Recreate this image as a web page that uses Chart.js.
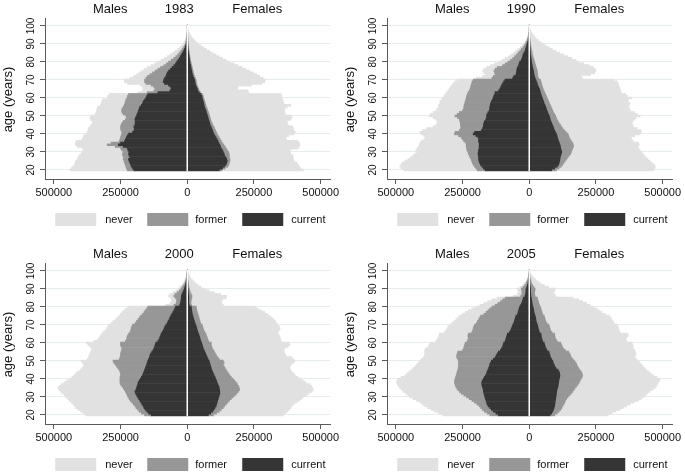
<!DOCTYPE html>
<html>
<head>
<meta charset="utf-8">
<script src="https://cdn.jsdelivr.net/npm/chart.js@4/dist/chart.umd.min.js"></script>
<style>
  body { margin: 0; background: #fff; overflow: hidden; }
  .panel { position: absolute; width: 342px; height: 231px; }
</style>
</head>
<body>
<div class="panel" style="left:0;top:0"><canvas id="p1983"></canvas></div>
<div class="panel" style="left:342px;top:0"><canvas id="p1990"></canvas></div>
<div class="panel" style="left:0;top:245px"><canvas id="p2000"></canvas></div>
<div class="panel" style="left:342px;top:245px"><canvas id="p2005"></canvas></div>
<script>
// Smoking status by age and sex, counts in thousands

const ages = [20,21,22,23,24,25,26,27,28,29,30,31,32,33,34,35,36,37,38,39,
  40,41,42,43,44,45,46,47,48,49,50,51,52,53,54,55,56,57,58,59,
  60,61,62,63,64,65,66,67,68,69,70,71,72,73,74,75,76,77,78,79,
  80,81,82,83,84,85,86,87,88,89,90,91,92,93,94,95,96,97,98,99,100];

const xTicks = [-500, -250, 0, 250, 500];
const xTickLabels = ['500000', '250000', '0', '250000', '500000'];
const yTicks = [20, 30, 40, 50, 60, 70, 80, 90, 100];
const legendLabels = ['never', 'former', 'current'];

// 1983
const m1983Current = [200,205,210,212,215,218,220,215,218,220, 218,222,225,240,258,250,235,232,228,225,
  220,205,200,198,200,196,195,195,196,194, 190,188,185,183,180,178,172,168,165,160,
  155,152,148,110,65,60,62,70,85,90, 88,85,80,78,75,70,63,57,50,44,
  40,35,30,26,22,18,14,11,8,6, 4,3,2,1,1,1,0,0,0,0, 0];
const m1983Former = [25,23,20,20,20,19,20,23,24,23, 22,23,25,30,42,35,20,20,22,23,
  25,40,48,52,50,52,50,45,36,34, 40,52,60,63,64,62,64,66,67,70,
  71,72,72,40,60,60,63,65,70,70, 72,70,70,62,55,50,47,43,38,34,
  30,25,21,17,14,12,10,8,6,4, 3,2,2,2,1,0,1,0,0,0, 0];
const m1983Never = [215,206,198,190,185,181,172,172,163,155, 155,145,142,142,118,135,160,143,140,140,
  135,130,124,120,115,112,110,116,130,137, 130,105,97,94,94,96,89,88,88,88,
  74,74,72,35,43,45,43,40,70,75, 75,60,50,50,50,50,50,50,47,44,
  40,38,35,32,28,24,21,17,14,11, 8,6,4,3,2,2,1,1,1,0, 0];
const f1983Current = [120,132,140,145,148,150,148,145,140,138, 135,132,128,125,122,118,115,112,108,104,
  100,97,95,92,89,86,84,82,80,78, 76,74,72,70,67,65,63,62,60,58,
  56,55,52,45,40,38,35,32,30,29, 28,25,22,20,18,17,15,14,13,11,
  10,9,8,7,6,5,4,3,3,2, 2,1,1,1,1,0,0,0,0,0, 0];
const f1983Former = [10,10,12,11,10,10,12,13,18,19, 20,18,18,17,15,14,13,12,12,12,
  12,12,11,11,11,10,9,8,8,8, 8,8,8,7,8,7,7,6,6,6,
  6,5,5,5,5,5,5,5,5,5, 5,5,5,5,5,5,5,5,4,4,
  4,3,3,3,3,3,3,3,2,2, 2,2,1,1,0,1,1,0,0,0, 0];
const f1983Never = [305,283,268,259,252,240,238,240,237,231, 230,235,269,278,285,288,287,248,250,264,
  288,296,294,295,295,282,282,285,300,306, 306,286,286,288,291,303,318,294,294,294,
  293,294,295,180,183,145,150,203,245,256, 259,255,245,235,225,213,200,186,173,160,
  146,134,122,110,99,88,77,66,56,47, 38,31,25,19,15,10,7,5,3,2, 1];

// 1990
const m1990Current = [165,172,178,183,186,188,190,190,191,192, 191,190,188,188,187,188,190,190,192,200,
  210,205,180,175,172,172,170,168,163,160, 160,158,155,150,148,148,146,145,142,138,
  135,133,130,128,115,110,107,104,100,96, 91,62,58,50,48,47,46,44,40,38,
  36,30,27,25,23,20,16,14,12,10, 8,6,4,3,2,1,1,0,0,0, 0];
const m1990Former = [30,28,27,27,27,28,28,32,34,36, 39,43,47,48,49,50,55,60,63,65,
  70,73,82,83,84,86,88,92,99,108, 118,112,107,100,98,97,98,97,98,100,
  101,102,102,102,110,112,113,114,116,118, 119,78,77,78,82,85,82,76,60,52,
  44,40,35,30,25,22,20,16,12,9, 7,5,4,3,2,2,1,1,1,0, 0];
const m1990Never = [275,280,280,270,262,249,237,223,210,200, 190,192,185,179,176,172,160,145,135,130,
  125,132,138,127,104,92,87,85,88,92, 97,100,98,100,99,95,96,93,95,92,
  89,85,83,80,80,78,75,72,69,66, 60,60,40,37,40,43,42,40,45,40,
  35,32,28,23,20,16,14,12,10,8, 6,5,4,3,2,1,1,1,0,1, 0];
const f1990Current = [84,95,105,110,112,114,115,116,118,120, 122,120,118,117,115,113,110,108,106,104,
  102,98,95,92,90,87,84,81,79,77, 75,72,69,66,64,62,59,56,54,51,
  49,46,44,42,40,38,35,32,30,27, 25,22,20,18,17,16,14,13,11,10,
  9,8,7,6,5,4,4,3,3,2, 2,1,1,1,0,0,0,0,0,0, 0];
const f1990Former = [18,17,15,16,18,21,25,29,32,35, 36,40,45,49,50,50,48,46,44,44,
  43,40,37,34,31,30,28,27,25,24, 24,23,22,22,21,20,20,20,19,19,
  18,18,17,16,15,14,15,16,16,17, 17,13,12,14,14,14,14,13,13,12,
  11,10,9,8,7,7,6,5,4,4, 3,3,2,1,2,1,1,0,0,0, 0];
const f1990Never = [363,358,352,342,330,317,305,293,282,270, 263,255,247,242,247,247,232,231,232,247,
  270,282,286,279,269,271,273,280,291,299, 316,310,304,290,290,290,296,302,299,300,
  317,304,301,287,287,288,288,287,287,286, 273,165,163,198,214,220,220,214,201,183,
  165,157,144,131,118,104,90,79,68,57, 47,38,31,24,18,14,9,7,4,2, 1];

// 2000
const m2000Current = [135,145,152,158,162,165,170,174,178,182, 186,190,194,196,192,190,188,186,184,180,
  176,172,168,165,162,160,157,155,152,150, 148,145,142,140,137,133,128,125,122,120,
  118,110,106,103,100,98,94,90,87,84, 80,75,72,68,65,62,58,54,50,47,
  44,28,26,24,23,22,22,20,17,14, 11,9,7,5,4,3,2,1,1,0, 0];
const m2000Former = [25,27,28,28,30,31,32,34,36,36, 36,35,34,36,44,50,57,64,68,72,
  76,80,82,85,90,95,103,110,118,125, 130,110,110,110,113,115,118,120,126,130,
  132,122,122,123,124,122,121,122,123,124, 125,120,118,117,115,113,110,108,108,105,
  104,22,16,16,17,22,28,26,21,16, 13,10,7,5,3,2,1,1,0,1, 0];
const m2000Never = [220,218,220,224,226,226,226,227,228,230, 233,235,240,243,244,244,235,222,210,200,
  188,180,175,168,158,145,135,125,118,117, 120,120,118,118,115,114,114,113,117,122,
  128,118,107,104,101,100,100,96,92,90, 89,90,88,85,82,81,82,83,80,78,
  74,30,23,20,18,18,20,19,14,12, 10,8,7,6,5,4,3,2,2,1, 1];
const f2000Current = [79,88,95,100,104,108,110,112,114,116, 118,120,122,122,121,120,118,115,112,110,
  107,104,101,98,95,92,90,88,86,84, 82,78,75,72,69,66,63,60,58,56,
  54,51,49,47,45,43,40,38,36,34, 32,29,27,25,23,21,19,18,17,16,
  15,7,6,6,6,6,6,5,4,3, 3,2,2,1,1,1,0,0,0,0, 0];
const f2000Former = [19,22,25,28,31,32,36,40,44,49, 54,60,64,70,75,75,74,73,72,68,
  65,61,59,57,55,54,52,50,49,54, 53,42,40,38,37,36,35,34,34,34,
  36,29,28,28,27,27,26,24,24,24, 24,21,21,21,21,21,21,20,19,19,
  19,9,8,8,9,11,12,10,8,7, 5,4,3,3,2,1,1,1,0,0, 0];
const f2000Never = [262,258,256,255,253,252,254,258,262,263, 263,268,272,276,276,275,274,272,261,257,
  256,250,245,245,242,242,243,247,255,260, 269,278,277,260,260,262,264,272,286,294,
  290,272,273,273,273,272,274,283,288,287, 284,285,282,279,274,268,260,252,242,230,
  221,119,116,114,117,128,130,110,90,72, 57,46,37,29,23,17,12,8,6,3, 1];

// 2005
const m2005Current = [116,125,135,142,148,154,158,160,162,164, 166,168,170,172,172,174,176,178,178,176,
  172,168,164,160,158,155,152,150,148,145, 142,135,128,124,120,116,108,104,100,98,
  96,90,88,86,84,82,74,70,67,64, 62,58,56,54,52,50,44,42,40,38,
  36,32,29,26,24,22,16,14,13,12, 12,9,7,5,4,3,2,1,1,0, 0];
const m2005Former = [32,33,33,34,34,34,38,45,53,61, 69,77,85,90,96,98,100,100,102,104,
  106,108,110,112,112,113,114,116,117,120, 123,133,144,148,150,152,142,142,144,144,
  144,142,142,142,146,146,141,142,143,144, 143,140,138,136,134,132,126,120,115,110,
  104,96,89,82,76,68,16,14,14,16, 18,14,10,7,5,3,2,2,1,1, 0];
const m2005Never = [177,182,187,192,198,203,204,205,207,210, 212,210,208,210,210,213,214,216,217,216,
  213,204,192,186,180,173,168,162,157,150, 145,137,125,121,121,124,142,142,134,133,
  132,118,115,114,108,109,103,100,98,97, 95,92,88,85,82,80,80,78,73,67,
  60,57,52,47,40,30,28,17,13,14, 15,12,8,6,4,3,2,1,1,1, 1];
const f2005Current = [78,84,88,91,93,95,96,97,98,99, 100,101,102,103,104,106,108,109,110,111,
  112,114,115,114,112,108,100,96,93,90, 88,84,80,78,76,74,66,63,60,58,
  56,50,48,46,45,44,38,36,34,32, 31,28,26,25,24,22,20,18,17,16,
  14,12,11,10,9,8,6,6,5,5, 5,4,3,2,2,1,1,0,0,0, 0];
const f2005Former = [18,21,24,27,29,31,34,36,38,41, 45,51,56,60,64,66,70,74,77,79,
  82,84,85,84,83,82,85,85,85,85, 82,80,78,77,76,74,69,65,64,63,
  62,55,52,51,51,51,47,44,44,44, 43,38,36,35,34,34,30,30,29,28,
  28,26,25,24,23,22,16,14,15,16, 17,13,10,7,5,4,2,2,1,1, 0];
const f2005Never = [200,205,213,222,230,239,248,259,273,280, 283,284,286,289,294,299,298,297,297,298,
  296,280,265,258,253,250,248,246,243,240, 239,238,238,243,248,250,260,262,266,267,
  267,260,262,268,275,275,255,257,257,257, 256,252,252,250,248,244,235,224,216,208,
  198,190,179,166,153,135,78,75,72,74, 76,55,43,34,26,20,15,10,6,3, 2];

const colNever = '#e1e1e1';
const colFormer = '#979797';
const colCurrent = '#353535';
const legendColors = [colNever, colFormer, colCurrent];
const axisColor = '#5a5a5a';
const fontFamily = '"Liberation Sans", Arial, sans-serif';

Chart.defaults.font.family = fontFamily;
Chart.defaults.color = '#111';

// titles, rotated age labels, white zero line and the legend
const pyramidText = {
    id: 'pyramidText',
    afterDatasetsDraw(chart) {
        const {ctx, scales} = chart;
        const x0 = scales.x.getPixelForValue(0);
        ctx.save();
        ctx.strokeStyle = '#fff';
        ctx.lineWidth = 1.5;
        ctx.beginPath();
        ctx.moveTo(x0, scales.y.getPixelForValue(19.5));
        ctx.lineTo(x0, scales.y.getPixelForValue(100.5));
        ctx.stroke();
        ctx.restore();
    },
    afterDraw(chart, args, opts) {
        const {ctx, chartArea, scales} = chart;
        const x0 = scales.x.getPixelForValue(0);
        ctx.save();
        ctx.fillStyle = '#111';
        ctx.textBaseline = 'middle';
        ctx.textAlign = 'center';

        // header
        ctx.font = '13px ' + fontFamily;
        const ty = chartArea.top - 9;
        ctx.fillText('Males', x0 - 77, ty);
        ctx.fillText(opts.year, x0 - 8, ty);
        ctx.fillText('Females', x0 + 70, ty);

        // axis title
        ctx.save();
        ctx.translate(8, (chartArea.top + chartArea.bottom) / 2 + 1);
        ctx.rotate(-Math.PI / 2);
        ctx.fillText('age (years)', 0, 0);
        ctx.restore();

        // age tick labels, rotated like the original
        ctx.font = '10px ' + fontFamily;
        yTicks.forEach(v => {
            ctx.save();
            ctx.translate(chartArea.left - 14, scales.y.getPixelForValue(v));
            ctx.rotate(-Math.PI / 2);
            ctx.fillText(String(v), 0, 0);
            ctx.restore();
        });

        // legend
        const boxX = [x0 - 132, x0 - 40, x0 + 55];
        const textX = [x0 - 82, x0 + 8, x0 + 104];
        const ly = chartArea.bottom + 34;
        ctx.font = '11px ' + fontFamily;
        ctx.textAlign = 'left';
        legendLabels.forEach((lab, i) => {
            ctx.fillStyle = legendColors[i];
            ctx.fillRect(boxX[i], ly, 41, 13);
            ctx.fillStyle = '#111';
            ctx.fillText(lab, textX[i], ly + 7);
        });
        ctx.restore();
    }
};

function drawPyramid(id, year, mCur, mFor, mNev, fCur, fFor, fNev) {
    const neg = a => a.map(v => -v);
    const ds = (label, data, color, stack) => ({
        label: label,
        data: data,
        backgroundColor: color,
        stack: stack,
        grouped: false,
        borderWidth: 0,
        barPercentage: 1,
        categoryPercentage: 1
    });

    new Chart(document.getElementById(id), {
        type: 'bar',
        data: {
            labels: ages,
            datasets: [
                ds('current', neg(mCur), colCurrent, 'm'),
                ds('former', neg(mFor), colFormer, 'm'),
                ds('never', neg(mNev), colNever, 'm'),
                ds('current', fCur, colCurrent, 'f'),
                ds('former', fFor, colFormer, 'f'),
                ds('never', fNev, colNever, 'f')
            ]
        },
        options: {
            indexAxis: 'y',
            responsive: true,
            maintainAspectRatio: false,
            animation: false,
            layout: { padding: { left: 25, right: 12, top: 18, bottom: 32 } },
            plugins: {
                legend: { display: false },
                tooltip: { enabled: false },
                pyramidText: { year: year }
            },
            scales: {
                x: {
                    type: 'linear',
                    stacked: true,
                    min: -533,
                    max: 535,
                    afterBuildTicks: s => { s.ticks = xTicks.map(v => ({ value: v })); },
                    afterFit: s => { s.height = 20; },
                    ticks: {
                        callback: (v, i) => xTickLabels[i],
                        font: { size: 11 },
                        padding: 2,
                        maxRotation: 0,
                        autoSkip: false
                    },
                    grid: { drawOnChartArea: false, tickLength: 5, color: axisColor },
                    border: { color: axisColor }
                },
                y: {
                    type: 'linear',
                    min: 15,
                    max: 104.4,
                    offset: false,
                    afterBuildTicks: s => { s.ticks = yTicks.map(v => ({ value: v })); },
                    afterFit: s => { s.width = 20; },
                    ticks: { display: false },
                    grid: { offset: false, color: '#e4ecef', tickLength: 5, tickColor: axisColor },
                    border: { color: axisColor }
                }
            }
        },
        plugins: [pyramidText]
    });
}

drawPyramid('p1983', '1983', m1983Current, m1983Former, m1983Never, f1983Current, f1983Former, f1983Never);
drawPyramid('p1990', '1990', m1990Current, m1990Former, m1990Never, f1990Current, f1990Former, f1990Never);
drawPyramid('p2000', '2000', m2000Current, m2000Former, m2000Never, f2000Current, f2000Former, f2000Never);
drawPyramid('p2005', '2005', m2005Current, m2005Former, m2005Never, f2005Current, f2005Former, f2005Never);
</script>
</body>
</html>
